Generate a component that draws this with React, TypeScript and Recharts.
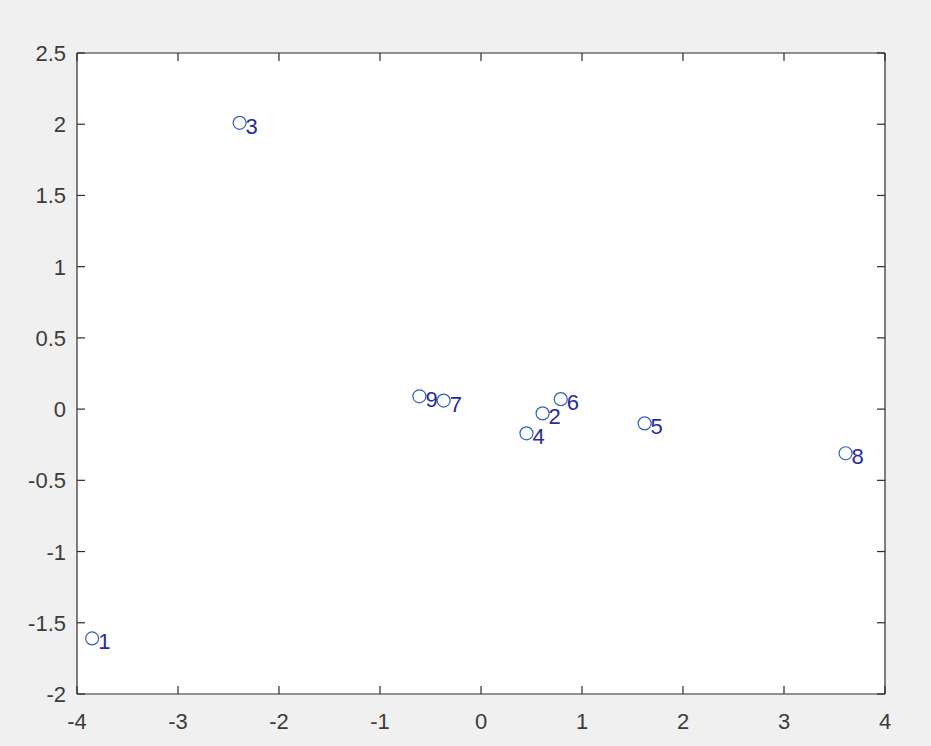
import React from 'react';
import { ScatterChart, Scatter, XAxis, YAxis, CartesianGrid } from 'recharts';

const labels = ['1', '2', '3', '4', '5', '6', '7', '8', '9'];
const xValues = [-3.85, 0.61, -2.39, 0.45, 1.62, 0.79, -0.37, 3.61, -0.61];
const yValues = [-1.61, -0.03, 2.01, -0.17, -0.10, 0.07, 0.06, -0.31, 0.09];
const xTicks = [-4, -3, -2, -1, 0, 1, 2, 3, 4];
const yTicks = [-2, -1.5, -1, -0.5, 0, 0.5, 1, 1.5, 2, 2.5];

const data = labels.map((l, i) => ({ x: xValues[i], y: yValues[i], label: l }));

const AXIS = '#2b2b2b';
const TICK_COLOR = '#3c3c3c';
const FONT = 'Liberation Sans, Arial, sans-serif';
const FS = 22;
const TL = 8;

const BottomTick = (props: any) => {
  const { x, y, payload } = props;
  return (
    <g>
      <line x1={x} x2={x} y1={y} y2={y - TL} stroke={AXIS} strokeWidth={1.2} />
      <text x={x} y={y + 35} textAnchor="middle" fontFamily={FONT} fontSize={FS} fill={TICK_COLOR}>
        {String(payload.value)}
      </text>
    </g>
  );
};

const TopTick = (props: any) => {
  const { x, y } = props;
  return <line x1={x} x2={x} y1={y} y2={y + TL} stroke={AXIS} strokeWidth={1.2} />;
};

const LeftTick = (props: any) => {
  const { x, y, payload } = props;
  return (
    <g>
      <line x1={x} x2={x + TL} y1={y} y2={y} stroke={AXIS} strokeWidth={1.2} />
      <text x={x - 11} y={y + 8} textAnchor="end" fontFamily={FONT} fontSize={FS} fill={TICK_COLOR}>
        {String(payload.value)}
      </text>
    </g>
  );
};

const RightTick = (props: any) => {
  const { x, y } = props;
  return <line x1={x} x2={x - TL} y1={y} y2={y} stroke={AXIS} strokeWidth={1.2} />;
};

const PointShape = (props: any) => {
  const { cx, cy, payload } = props;
  return (
    <g>
      <circle cx={cx} cy={cy} r={6.5} fill="none" stroke="#2f62b8" strokeWidth={1.2} />
      <text x={cx + 6} y={cy + 11} fontFamily={FONT} fontSize={FS} fill="#2a2aa0">
        {payload.label}
      </text>
    </g>
  );
};

export default function App() {
  return (
    <div style={{ position: 'absolute', left: 0, top: 0, width: 931, height: 746, background: '#f0f0f0' }}>
      <ScatterChart width={931} height={746} margin={{ top: 43, right: 36, bottom: 22, left: 37 }}>
        <CartesianGrid horizontal={false} vertical={false} fill="#ffffff" xAxisId="b" yAxisId="l" />
        <XAxis
          xAxisId="b"
          type="number"
          dataKey="x"
          domain={[-4, 4]}
          ticks={xTicks}
          orientation="bottom"
          height={30}
          tickSize={0}
          tickMargin={0}
          tickLine={false}
          tick={<BottomTick />}
          stroke={AXIS}
          strokeWidth={1.2}
          allowDataOverflow
        />
        <XAxis
          xAxisId="t"
          type="number"
          dataKey="x"
          domain={[-4, 4]}
          ticks={xTicks}
          orientation="top"
          height={10}
          tickSize={0}
          tickMargin={0}
          tickLine={false}
          tick={<TopTick />}
          stroke={AXIS}
          strokeWidth={1.2}
          allowDataOverflow
        />
        <YAxis
          yAxisId="l"
          type="number"
          dataKey="y"
          domain={[-2, 2.5]}
          ticks={yTicks}
          orientation="left"
          width={40}
          tickSize={0}
          tickMargin={0}
          tickLine={false}
          tick={<LeftTick />}
          stroke={AXIS}
          strokeWidth={1.2}
          allowDataOverflow
        />
        <YAxis
          yAxisId="r"
          type="number"
          dataKey="y"
          domain={[-2, 2.5]}
          ticks={yTicks}
          orientation="right"
          width={10}
          tickSize={0}
          tickMargin={0}
          tickLine={false}
          tick={<RightTick />}
          stroke={AXIS}
          strokeWidth={1.2}
          allowDataOverflow
        />
        <Scatter
          data={data}
          xAxisId="b"
          yAxisId="l"
          isAnimationActive={false}
          shape={<PointShape />}
        />
      </ScatterChart>
    </div>
  );
}
